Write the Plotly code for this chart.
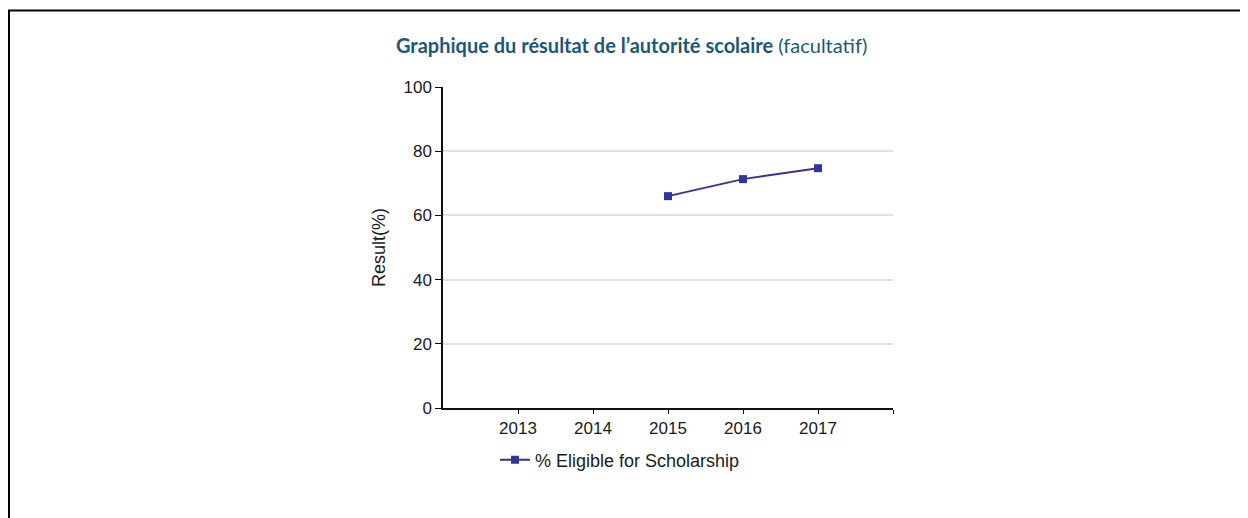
import plotly.graph_objects as go

years = [2015, 2016, 2017]
values = [66.0, 71.3, 74.7]
x_ticks = [2013, 2014, 2015, 2016, 2017, 2018]
x_labels = ["2013", "2014", "2015", "2016", "2017", ""]
series_name = "% Eligible for Scholarship"
title_bold = "Graphique du résultat de l’autorité scolaire"
title_rest = "(facultatif)"
y_title = "Result(%)"

OFF = 8  # page body margin
W, H = 1248 - OFF, 518 - OFF
# plot area in page pixels (reference coordinates)
L, R, T, B = 443, 893, 87, 408

def px_x(p):
    return (p - L) / (R - L)

def px_y(p):
    return (B - p) / (B - T)

line_color = "#33339a"
txt_font = "Liberation Sans, Arial, sans-serif"
axis_font = dict(family=txt_font, size=17, color="#1a1a1a")

fig = go.Figure()
fig.add_trace(go.Scatter(
    x=years, y=values, mode="lines+markers", name=series_name,
    line=dict(color=line_color, width=2),
    marker=dict(symbol="square", size=8, color=line_color),
))

fig.update_layout(
    width=W, height=H,
    margin=dict(l=L - OFF, r=W - (R - OFF), t=T - OFF, b=H - (B - OFF), pad=0),
    paper_bgcolor="white", plot_bgcolor="white",
    showlegend=True,
    legend=dict(
        orientation="h", x=px_x(495), y=px_y(460), xanchor="left", yanchor="middle",
        font=dict(family=txt_font, size=18, color="#1a1a1a"),
        bgcolor="rgba(0,0,0,0)",
    ),
    xaxis=dict(
        range=[2012, 2018], tickvals=x_ticks, ticktext=x_labels,
        showgrid=False, zeroline=False, showline=True, linecolor="#111111", linewidth=1.5,
        ticks="outside", ticklen=4, tickcolor="#111111", tickfont=axis_font,
        fixedrange=True,
    ),
    yaxis=dict(
        range=[0, 100], tickvals=[0, 20, 40, 60, 80, 100],
        showgrid=True, gridcolor="#e0e0e0", gridwidth=1.5, zeroline=False,
        showline=True, linecolor="#111111", linewidth=1.5,
        ticks="outside", ticklen=6, tickcolor="#111111", tickfont=axis_font,
        fixedrange=True,
    ),
    annotations=[
        dict(
            text=f"<b>{title_bold}</b> {title_rest}",
            xref="paper", yref="paper", x=px_x(631), y=px_y(45),
            xanchor="center", yanchor="middle", showarrow=False,
            font=dict(family="Lato, Open Sans, sans-serif", size=20, color="#1b5878"),
        ),
        dict(
            text=y_title, textangle=-90,
            xref="paper", yref="paper", x=px_x(379), y=px_y(248),
            xanchor="center", yanchor="middle", showarrow=False,
            font=dict(family=txt_font, size=18, color="#1a1a1a"),
        ),
    ],
    shapes=[
        dict(type="line", xref="paper", yref="paper",
             x0=px_x(8), x1=px_x(1260), y0=px_y(10.5), y1=px_y(10.5),
             line=dict(color="black", width=2)),
        dict(type="line", xref="paper", yref="paper",
             x0=px_x(9), x1=px_x(9), y0=px_y(10), y1=px_y(530),
             line=dict(color="black", width=2)),
    ],
)

fig.write_html("out.html")
